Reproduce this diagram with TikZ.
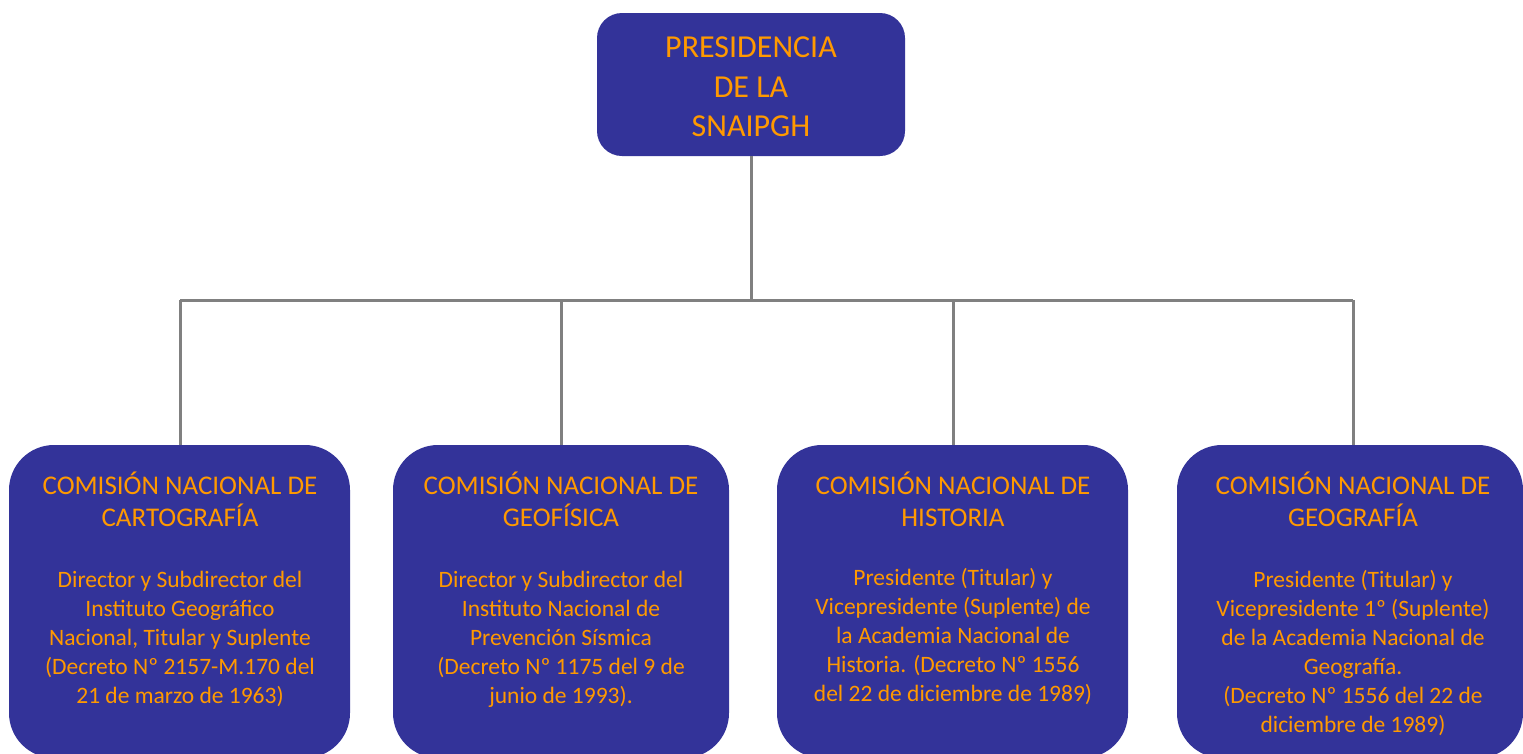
\documentclass[tikz,border=0pt]{standalone}
\usepackage{fontspec}
\setmainfont{Carlito}
\definecolor{boxblue}{RGB}{51,51,153}
\definecolor{txtorange}{RGB}{255,153,0}
\definecolor{linegray}{RGB}{128,128,128}
\begin{document}
\begin{tikzpicture}[x=1pt,y=-1pt,
  topbox/.style={fill=boxblue,draw=none,rounded corners=25pt,minimum width=308pt,minimum height=143pt,inner sep=0pt},
  subbox/.style={fill=boxblue,draw=none,rounded corners=45pt,inner sep=0pt,minimum height=313pt},
  headtxt/.style={text=txtorange,align=center,anchor=north,inner sep=0pt,font={\fontsize{27}{32}\selectfont}},
  bodytxt/.style={text=txtorange,align=center,anchor=north,inner sep=0pt,font={\fontsize{23.5}{29}\selectfont}},
  toptxt/.style={text=txtorange,align=center,anchor=north,inner sep=0pt,font={\fontsize{32}{39.5}\selectfont}},
  conn/.style={draw=linegray,line width=3pt}]
\useasboundingbox (0,0) rectangle (1523,753);
% boxes
\node[topbox] (top) at (751,84.5) {};
\node[subbox,minimum width=341pt] (b1) at (179.5,601.5) {};
\node[subbox,minimum width=336pt] (b2) at (561,601.5) {};
\node[subbox,minimum width=351pt] (b3) at (952.5,601.5) {};
\node[subbox,minimum width=346pt] (b4) at (1350,601.5) {};
% connectors
\coordinate (j) at (751,300);
\coordinate (j1) at (180,300);
\coordinate (j2) at (561,300);
\coordinate (j3) at (953,300);
\coordinate (j4) at (1353,300);
\draw[conn] (top.south) -- (j);
\draw[conn] (j1) -- (j4);
\draw[conn] (j1) -- (j1 |- b1.north);
\draw[conn] (j2) -- (j2 |- b2.north);
\draw[conn] (j3) -- (j3 |- b3.north);
\draw[conn] (j4) -- (j4 |- b4.north);
% texts
\node[toptxt] (tt) at (751,27.5) {\rule{0pt}{30pt}PRESIDENCIA\\DE LA\\SNAIPGH};
\node[headtxt] (h1) at (180,468) {\rule{0pt}{26pt}COMISIÓN NACIONAL DE\\CARTOGRAFÍA};
\node[headtxt] (h2) at (561,468) {\rule{0pt}{26pt}COMISIÓN NACIONAL DE\\GEOFÍSICA};
\node[headtxt] (h3) at (953,468) {\rule{0pt}{26pt}COMISIÓN NACIONAL DE\\HISTORIA};
\node[headtxt] (h4) at (1353,468) {\rule{0pt}{26pt}COMISIÓN NACIONAL DE\\GEOGRAFÍA};
\node[bodytxt] (d1) at (180,565.5) {\rule{0pt}{22pt}Director y Subdirector del\\Instituto Geográfico\\Nacional, Titular y Suplente\\(Decreto Nº 2157-M.170 del\\21 de marzo de 1963)};
\node[bodytxt] (d2) at (561,565.5) {\rule{0pt}{22pt}Director y Subdirector del\\Instituto Nacional de\\Prevención Sísmica\\(Decreto Nº 1175 del 9 de\\junio de 1993).};
\node[bodytxt] (d3) at (953,563.5) {\rule{0pt}{22pt}Presidente (Titular) y\\Vicepresidente (Suplente) de\\la Academia Nacional de\\Historia. (Decreto Nº 1556\\del 22 de diciembre de 1989)};
\node[bodytxt] (d4) at (1353,565.5) {\rule{0pt}{22pt}Presidente (Titular) y\\Vicepresidente 1º (Suplente)\\de la Academia Nacional de\\Geografía.\\(Decreto Nº 1556 del 22 de\\diciembre de 1989)};
\end{tikzpicture}
\end{document}
